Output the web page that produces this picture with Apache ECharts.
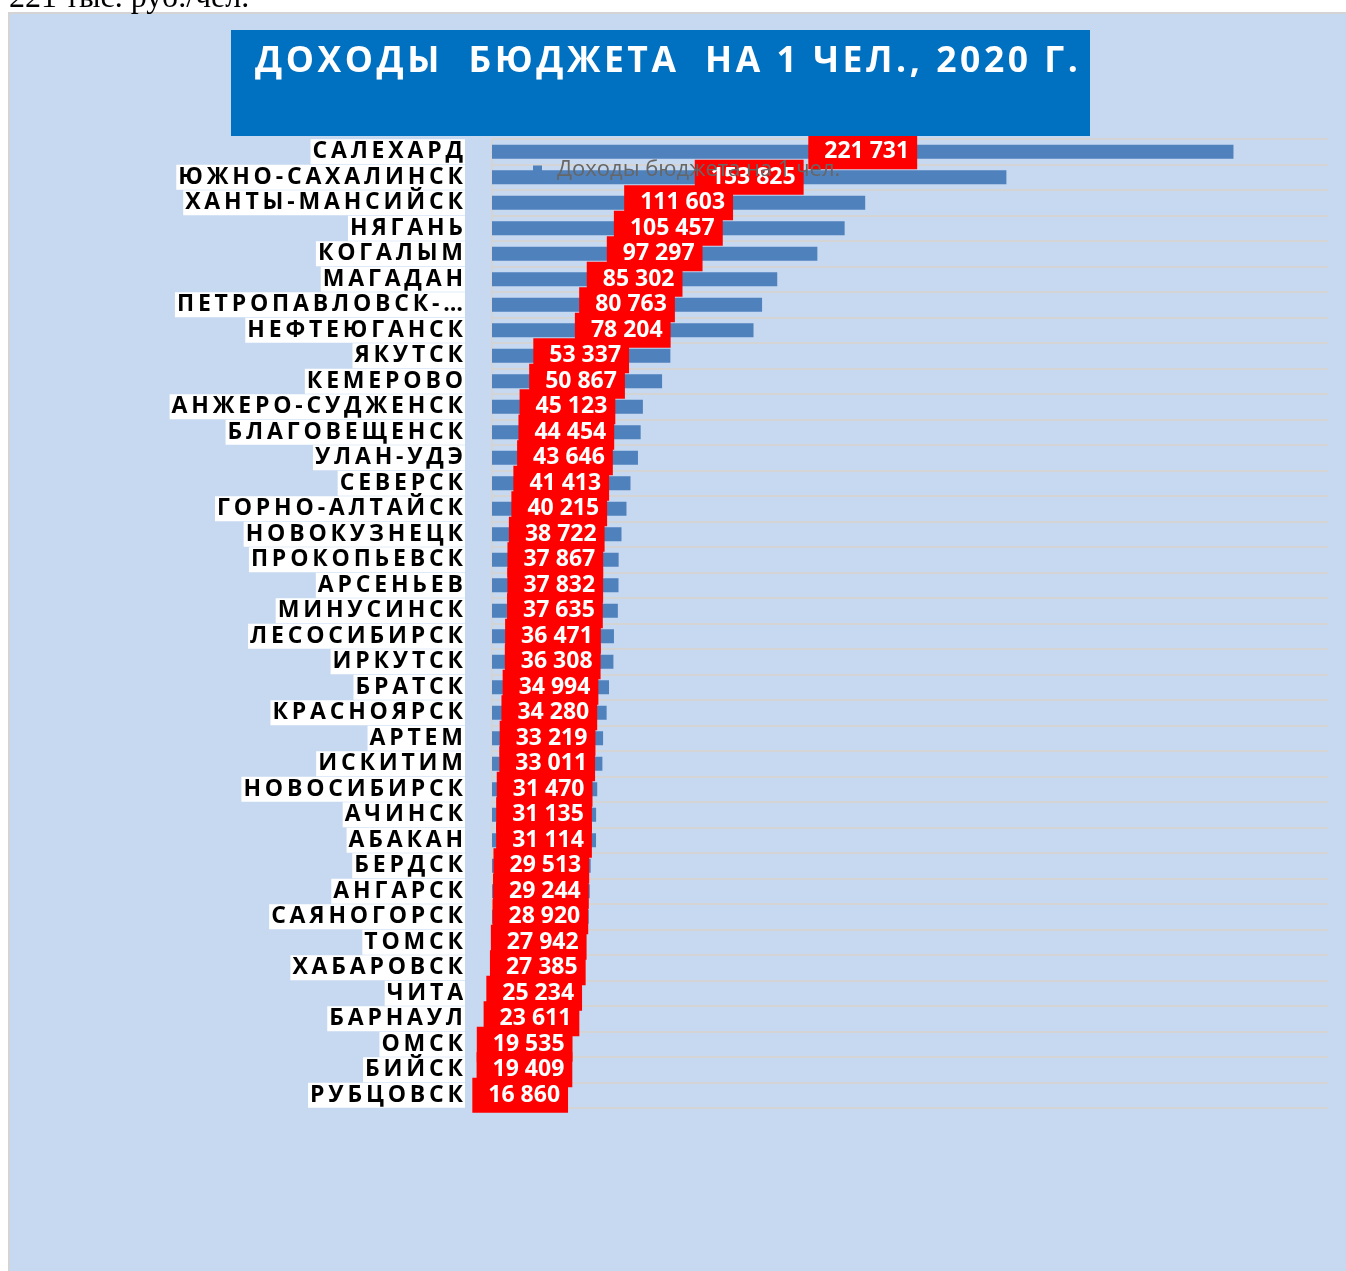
<!DOCTYPE html>
<html>
<head>
<meta charset="utf-8">
<script src="https://cdn.jsdelivr.net/npm/echarts@6/dist/echarts.min.js"></script>
<style>
	html,body{margin:0;padding:0;background:#fff;}
	#main{width:1346px;height:1271px;}
</style>
</head>
<body>
<div id="main"></div>
<script type="text/javascript">
	var cities = ['САЛЕХАРД','ЮЖНО-САХАЛИНСК','ХАНТЫ-МАНСИЙСК','НЯГАНЬ','КОГАЛЫМ','МАГАДАН','ПЕТРОПАВЛОВСК-КАМЧАТСКИЙ','НЕФТЕЮГАНСК',
		'ЯКУТСК','КЕМЕРОВО','АНЖЕРО-СУДЖЕНСК','БЛАГОВЕЩЕНСК','УЛАН-УДЭ','СЕВЕРСК','ГОРНО-АЛТАЙСК','НОВОКУЗНЕЦК','ПРОКОПЬЕВСК',
		'АРСЕНЬЕВ','МИНУСИНСК','ЛЕСОСИБИРСК','ИРКУТСК','БРАТСК','КРАСНОЯРСК','АРТЕМ','ИСКИТИМ','НОВОСИБИРСК','АЧИНСК','АБАКАН',
		'БЕРДСК','АНГАРСК','САЯНОГОРСК','ТОМСК','ХАБАРОВСК','ЧИТА','БАРНАУЛ','ОМСК','БИЙСК','РУБЦОВСК'];
	var values = [221731,153825,111603,105457,97297,85302,80763,78204,
		53337,50867,45123,44454,43646,41413,40215,38722,37867,
		37832,37635,36471,36308,34994,34280,33219,33011,31470,31135,31114,
		29513,29244,28920,27942,27385,25234,23611,19535,19409,16860];
	var titleText = 'ДОХОДЫ  БЮДЖЕТА  НА 1 ЧЕЛ., 2020 Г.';
	var seriesName = 'Доходы бюджета на 1 чел.';
	var noteText = '221 тыс. руб./чел.';

	//разрядка букв
	function spaced(s,sep){
		if(s.length>15)s = s.slice(0,14)+'…';
		return s.split('').join(sep);
	}
	//221731 -> 221 731
	function fmt(v){
		return String(v).replace(/\B(?=(\d{3})+(?!\d))/g,' ');
	}

	var myChart = echarts.init(document.getElementById('main'));
	var option = {
		backgroundColor:'#fff',
		animation:false,
		graphic:[
			{type:'rect',z:-10,shape:{x:9,y:13,width:1342,height:1264},style:{fill:'#c6d9f1',stroke:'#d4d4d4',lineWidth:2}},
			{type:'text',x:9,y:15,style:{text:noteText,font:'32px "Liberation Serif"',fill:'#000',verticalAlign:'bottom'}},
			{type:'rect',z:10,shape:{x:231,y:30,width:859,height:106},style:{fill:'#0070c0'}},
			{type:'text',z:11,x:255,y:44,style:{text:titleText.split('').join('\u200a'),font:'bold 35.5px "Open Sans"',fill:'#fff',verticalAlign:'top'}}
		],
		legend:{
			data:[seriesName],
			left:528,
			top:154,
			z:20,
			icon:'rect',
			itemWidth:9,
			itemHeight:9,
			selectedMode:false,
			textStyle:{color:'#666',fontSize:22,fontFamily:'Open Sans',padding:[0,0,0,10]}
		},
		grid:{left:492,top:139,right:18,bottom:163,outerBoundsMode:'none'},
		xAxis:{
			type:'value',
			min:0,
			max:250000,
			show:false
		},
		yAxis:{
			type:'category',
			data:cities,
			inverse:true,
			axisLine:{show:true,lineStyle:{color:'#d4d4d4',width:2}},
			axisTick:{show:false},
			splitLine:{show:true,lineStyle:{color:'#d4d4d4',width:2}},
			axisLabel:{
				interval:0,
				margin:27,
				color:'#000',
				fontFamily:'Open Sans',
				fontWeight:'bold',
				fontSize:23,
				lineHeight:22,
				backgroundColor:'#fff',
				padding:[2,2,1,2],
				formatter:function(v){return spaced(v,'\u2009');}
			}
		},
		series:[{
			name:seriesName,
			type:'bar',
			data:values,
			barWidth:14,
			itemStyle:{color:'#4f81bd'},
			label:{
				show:true,
				position:'inside',
				formatter:function(p){return fmt(p.value);},
				color:'#fff',
				fontFamily:'Open Sans',
				fontWeight:'bold',
				fontSize:23,
				lineHeight:23,
				backgroundColor:'#ff0000',
				padding:[6,8,6,16]
			}
		}]
	};
	myChart.setOption(option);
</script>
</body>
</html>
